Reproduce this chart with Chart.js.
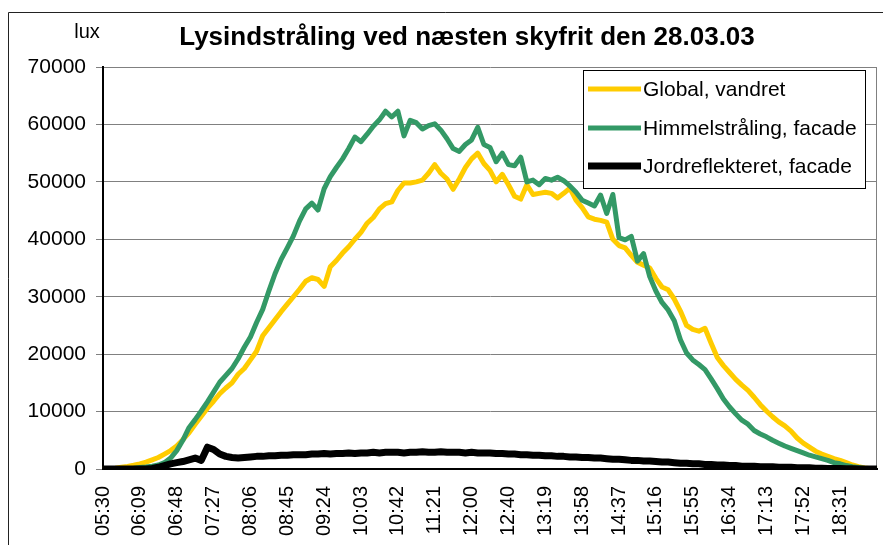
<!DOCTYPE html>
<html>
<head>
<meta charset="utf-8">
<script src="https://cdn.jsdelivr.net/npm/chart.js@4.4.0/dist/chart.umd.min.js"></script>
<style>
  body { margin: 0; background: #fff; }
</style>
</head>
<body>
<canvas id="chart" width="883" height="545"></canvas>
<script>
// tick labels shown on the time axis (one every 6 samples)
var tickLabels = ['05:30', '06:09', '06:48', '07:27', '08:06', '08:45', '09:24', '10:03', '10:42', '11:21',
  '12:00', '12:40', '13:19', '13:58', '14:37', '15:16', '15:55', '16:34', '17:13', '17:52', '18:31'];
var samplesPerTick = 6;

var seriesNames = ['Global, vandret', 'Himmelstråling, facade', 'Jordreflekteret, facade'];

// lux
var globalVandret = [
  0, 50, 150, 300, 450, 650, 900, 1200, 1600, 2000,
  2600, 3200, 4000, 5100, 6300, 7800, 9200, 10600, 11800, 13100,
  14100, 15000, 16500, 17500, 19000, 20500, 23200, 24600, 26000, 27400,
  28700, 30000, 31300, 32700, 33300, 33000, 31800, 35200, 36300, 37600,
  38700, 40000, 41200, 42800, 43800, 45300, 46200, 46500, 48500, 49800,
  49800, 50000, 50300, 51500, 53000, 51500, 50500, 48700, 50500, 52500,
  54000, 55000, 53200, 52000, 50000, 51300, 49500, 47500, 47000, 49500,
  47800, 48000, 48200, 48000, 47200, 48000, 48900, 46800, 45500, 43900,
  43500, 43300, 43000, 40000, 38900, 38500, 37200, 36000, 35500, 35000,
  33200, 31700, 31200, 29600, 27500, 25000, 24300, 24000, 24500, 21900,
  19400, 18000, 16800, 15600, 14600, 13700, 12500, 11200, 10100, 9100,
  8200, 7500, 6600, 5400, 4500, 3800, 3100, 2600, 2200, 1800,
  1500, 1100, 700, 400, 200, 50, 0
];

var himmelFacade = [
  0, 0, 30, 60, 100, 150, 250, 350, 500, 700,
  1100, 1900, 3200, 5000, 7200, 8600, 10100, 11700, 13400, 15100,
  16300, 17500, 19200, 21200, 23000, 25500, 27800, 31000, 34000, 36500,
  38500, 40600, 43200, 45300, 46300, 45100, 48800, 50900, 52500, 54000,
  55800, 57800, 57000, 58300, 59700, 60800, 62300, 61300, 62300, 58000,
  60700, 60300, 59200, 59800, 60100, 59000, 57500, 55800, 55300, 56500,
  57300, 59500, 56500, 56000, 53500, 55000, 53000, 52800, 54300, 50000,
  50300, 49500, 50600, 50300, 50800, 50200, 49300, 48200, 46800, 46300,
  45800, 47700, 44500, 47800, 40300, 39900, 40500, 36200, 37500, 33500,
  31000, 29000, 27700, 25800, 22500, 20200, 19000, 18200, 17300, 15700,
  14000, 12200, 10800, 9600, 8500, 7800, 6700, 6100, 5600, 5000,
  4500, 4000, 3600, 3200, 2800, 2400, 2100, 1800, 1500, 1100,
  900, 600, 400, 250, 100, 50, 0
];

var jordFacade = [
  0, 0, 0, 0, 0, 0, 0, 0, 100, 300,
  600, 900, 1100, 1300, 1600, 1900, 1500, 3800, 3400, 2600,
  2200, 2000, 1900, 2000, 2100, 2200, 2200, 2300, 2300, 2400,
  2400, 2500, 2500, 2500, 2600, 2600, 2700, 2600, 2700, 2700,
  2800, 2700, 2800, 2800, 2900, 2800, 2900, 2900, 2900, 2800,
  2900, 2900, 3000, 2900, 2900, 3000, 2900, 2900, 2900, 2800,
  2900, 2800, 2800, 2800, 2700, 2700, 2600, 2600, 2500, 2500,
  2400, 2400, 2300, 2300, 2200, 2200, 2100, 2100, 2000, 2000,
  1900, 1900, 1800, 1700, 1700, 1600, 1500, 1500, 1400, 1400,
  1300, 1200, 1200, 1100, 1000, 1000, 900, 900, 800, 800,
  700, 700, 600, 600, 500, 500, 500, 400, 400, 400,
  300, 300, 300, 200, 200, 200, 150, 150, 100, 100,
  100, 50, 50, 0, 0, 0, 0
];

var yTicks = [0, 10000, 20000, 30000, 40000, 50000, 60000, 70000];

var colors = ['#FFCC00', '#339966', '#000000'];
var FONT = '"Liberation Sans", Arial, sans-serif';

// every sample gets a slot, only every 6th carries a time
var labels = [];
for (var i = 0; i < globalVandret.length; i++) {
  labels.push(i % samplesPerTick === 0 && tickLabels[i / samplesPerTick] ? tickLabels[i / samplesPerTick] : '');
}

// frame, title, unit label, legend box
var decorPlugin = {
  id: 'decor',
  beforeDraw: function (chart) {
    var ctx = chart.ctx;
    ctx.save();
    ctx.fillStyle = '#fff';
    ctx.fillRect(0, 0, chart.width, chart.height);
    ctx.strokeStyle = '#222';
    ctx.lineWidth = 1;
    ctx.beginPath();
    ctx.moveTo(8.5, 545);
    ctx.lineTo(8.5, 12.5);
    ctx.lineTo(883, 12.5);
    ctx.stroke();
    ctx.restore();
  },
  beforeDatasetsDraw: function (chart) {
    var a = chart.chartArea;
    var ctx = chart.ctx;
    ctx.save();
    ctx.strokeStyle = '#808080';
    ctx.lineWidth = 1;
    ctx.beginPath();
    ctx.moveTo(a.right - 0.5, a.top);
    ctx.lineTo(a.right - 0.5, a.bottom);
    ctx.stroke();
    ctx.restore();
  },
  afterDraw: function (chart) {
    var ctx = chart.ctx;
    ctx.save();
    ctx.fillStyle = '#000';
    ctx.textAlign = 'center';
    ctx.textBaseline = 'middle';
    ctx.font = 'bold 26px ' + FONT;
    ctx.fillText('Lysindstråling ved næsten skyfrit den 28.03.03', 467, 38);
    ctx.font = '20px ' + FONT;
    ctx.fillText('lux', 87, 32);

    // legend
    ctx.fillStyle = '#fff';
    ctx.fillRect(583, 70, 282, 118);
    ctx.strokeStyle = '#000';
    ctx.lineWidth = 1;
    ctx.strokeRect(583.5, 70.5, 282, 118);
    var rows = [89, 128, 166];
    chart.data.datasets.forEach(function (ds, k) {
      ctx.strokeStyle = ds.borderColor;
      ctx.lineWidth = ds.borderWidth;
      ctx.beginPath();
      ctx.moveTo(588, rows[k]);
      ctx.lineTo(641, rows[k]);
      ctx.stroke();
      ctx.fillStyle = '#000';
      ctx.textAlign = 'left';
      ctx.font = '21px ' + FONT;
      ctx.fillText(ds.label, 643, rows[k] + 1);
    });
    ctx.restore();
  }
};

new Chart(document.getElementById('chart'), {
  type: 'line',
  data: {
    labels: labels,
    datasets: [
      { label: seriesNames[0], data: globalVandret, borderColor: colors[0], borderWidth: 5, order: 3 },
      { label: seriesNames[1], data: himmelFacade, borderColor: colors[1], borderWidth: 5, order: 2 },
      { label: seriesNames[2], data: jordFacade, borderColor: colors[2], borderWidth: 7, order: 1 }
    ]
  },
  options: {
    responsive: false,
    animation: false,
    layout: { padding: { top: 67, right: 6, left: 0, bottom: 0 } },
    elements: {
      point: { radius: 0 },
      line: { tension: 0, borderJoinStyle: 'round', fill: false }
    },
    plugins: {
      legend: { display: false },
      title: { display: false },
      tooltip: { enabled: false }
    },
    scales: {
      x: {
        type: 'category',
        offset: false,
        grid: { display: false, drawTicks: false },
        border: { display: true, color: '#000', width: 2 },
        afterFit: function (s) { s.height = 76; s.paddingLeft = 0; s.paddingRight = 0; },
        ticks: {
          autoSkip: false,
          minRotation: 90,
          maxRotation: 90,
          padding: 17,
          color: '#000',
          font: { family: FONT, size: 20 },
          callback: function (v, i) { return labels[i]; }
        }
      },
      y: {
        min: 0,
        max: 70000,
        afterFit: function (s) { s.width = 103; s.paddingTop = 0; s.paddingBottom = 0; },
        afterBuildTicks: function (s) { s.ticks = yTicks.map(function (v) { return { value: v }; }); },
        grid: { color: '#808080', lineWidth: 1, tickLength: 7 },
        border: { display: true, color: '#000', width: 2 },
        ticks: {
          padding: 10,
          color: '#000',
          font: { family: FONT, size: 21 },
          callback: function (v) { return String(v); }
        }
      }
    }
  },
  plugins: [decorPlugin]
});
</script>
</body>
</html>
